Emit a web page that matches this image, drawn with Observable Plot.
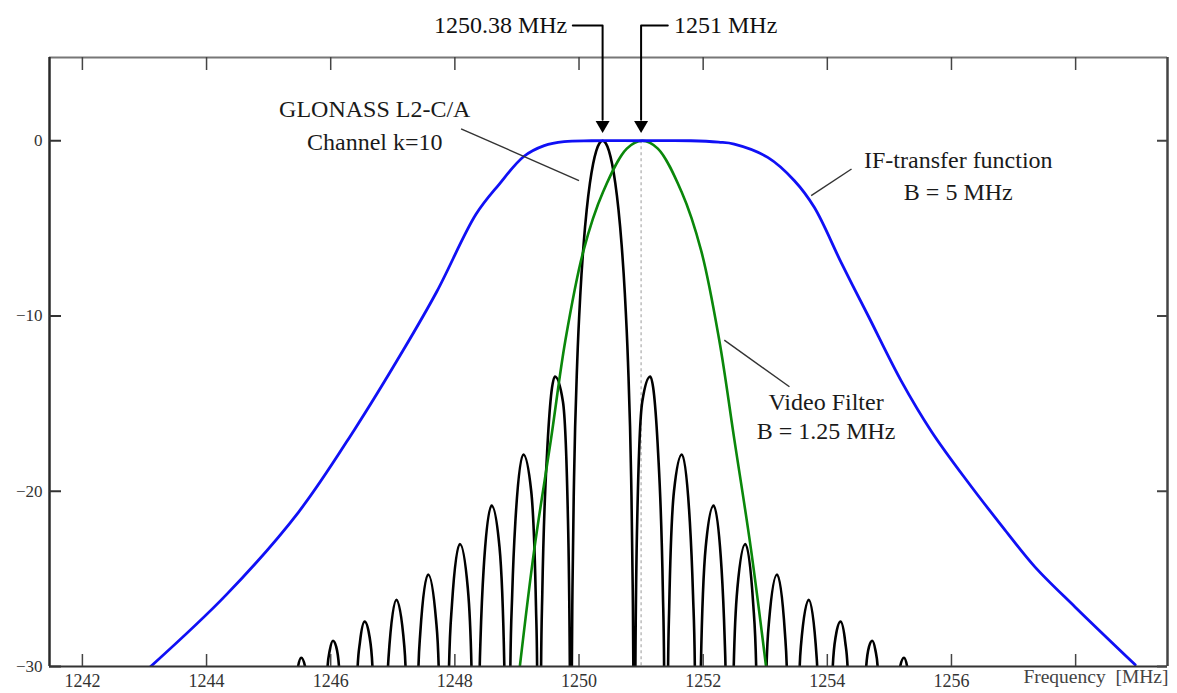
<!DOCTYPE html>
<html>
<head>
<meta charset="utf-8">
<script src="https://cdn.jsdelivr.net/npm/d3@7"></script>
<script src="https://cdn.jsdelivr.net/npm/@observablehq/plot@0.6"></script>
<style>
  html, body { margin: 0; padding: 0; background: #fff; }
  #chart svg { display: block; }
</style>
</head>
<body>
<div id="chart"></div>
<script>
// ---- axes ----
const xDomain = [1241.47, 1259.48];
const yDomain = [-30, 4.75];
const xTicks = [1242, 1244, 1246, 1248, 1250, 1252, 1254, 1256, 1258];
const xTickLabels = [1242, 1244, 1246, 1248, 1250, 1252, 1254, 1256];
const yTicks = [0, -10, -20, -30];
const xTitle = "Frequency  [MHz]";

// ---- IF-transfer function (blue) ----
const ifFreq = [1243.10, 1244.32, 1245.48, 1246.38, 1247.16, 1247.71, 1248.34, 1248.71, 1249.11, 1249.44, 1249.76, 1250.20, 1251.00, 1251.80, 1252.25, 1252.50, 1253.04, 1253.47, 1253.79, 1254.23, 1254.66, 1255.19, 1255.68, 1256.27, 1256.86, 1257.34, 1257.99, 1258.96];
const ifDb   = [-30.0, -25.9, -21.2, -16.5, -12.0, -8.6, -4.2, -2.5, -0.9, -0.28, -0.05, 0, 0, 0, -0.08, -0.19, -0.95, -2.28, -3.8, -7.0, -10.0, -13.7, -16.6, -19.5, -22.2, -24.3, -26.6, -29.9];

// ---- Video filter (green) ----
const vfFreq = [1249.04, 1249.28, 1249.55, 1249.78, 1250.07, 1250.39, 1250.77, 1251.02, 1251.27, 1251.65, 1251.97, 1252.26, 1252.50, 1252.77, 1253.02];
const vfDb   = [-30.2, -23.3, -17.0, -11.4, -6.3, -2.9, -0.45, 0, -0.45, -2.9, -6.3, -11.4, -17.0, -23.3, -30.2];

// ---- GLONASS L2-C/A spectrum (black), one side of the carrier, mirrored ----
const carrier = 1250.38;
const sincOff = [0, 0.0511, 0.1022, 0.1533, 0.2044, 0.2555, 0.3066, 0.3577, 0.4088, 0.4599, 0.4855, 0.4952, 0.511,
  0.5279, 0.5621, 0.6388, 0.7665, 0.8943, 0.9709, 0.9908, 1.022,
  1.0552, 1.0731, 1.1498, 1.2775, 1.4053, 1.4564, 1.486, 1.533,
  1.5831, 1.6608, 1.7885, 1.9163, 1.9674, 1.9796, 2.044,
  2.1125, 2.1718, 2.2995, 2.4273, 2.4738, 2.555,
  2.6408, 2.6828, 2.8105, 2.9383, 2.9664, 3.066,
  3.1748, 3.1938, 3.3215, 3.4493, 3.4569, 3.577,
  3.7078, 3.7559, 3.8325, 3.9092, 3.9459, 4.088,
  4.2464, 4.2924, 4.3435, 4.3946, 4.4304, 4.599,
  4.7932, 4.8545, 4.9056, 5.11];
const sincDb = [0, -0.14, -0.58, -1.33, -2.42, -3.92, -5.94, -8.69, -12.62, -19.23, -25.6, -30, -60,
  -30, -20.97, -14.89, -13.46, -17.81, -25.72, -30, -60,
  -30, -26.59, -20.0, -17.9, -21.74, -25.9, -30, -60,
  -30, -23.19, -20.82, -24.43, -28.51, -30, -60,
  -30, -25.52, -23.01, -26.49, -30, -60,
  -30, -27.36, -24.75, -28.15, -30, -60,
  -30, -28.87, -26.2, -29.54, -30, -60,
  -30, -28.27, -27.44, -28.62, -30, -60,
  -30, -28.86, -28.53, -29.07, -30, -60,
  -30, -29.5, -30, -60];

// ---- annotations ----
const arrowFreq = [1250.38, 1251.0];
const arrowTail = [1249.90, 1251.43];
const arrowTopDb = 6.57;
const arrowHeadDb = 0.9;
const arrowText = ["1250.38 MHz", "1251 MHz"];
const arrowTextFreq = [1249.81, 1251.53];

const labelText = ["GLONASS L2-C/A", "Channel k=10", "IF-transfer function", "B = 5 MHz", "Video Filter", "B = 1.25 MHz"];
const labelFreq = [1246.71, 1246.71, 1256.11, 1256.11, 1253.98, 1253.98];
const labelDb   = [1.78, -0.1, -1.13, -2.96, -14.93, -16.59];

const leaderX1 = [1248.10, 1254.39, 1252.34];
const leaderY1 = [0.68, -1.61, -11.38];
const leaderX2 = [1250.00, 1253.74, 1253.39];
const leaderY2 = [-2.28, -3.13, -14.04];

// ---- build tables ----
const ifData = ifFreq.map((f, i) => ({f, db: ifDb[i]}));
const vfData = vfFreq.map((f, i) => ({f, db: vfDb[i]}));
const sincData = [];
for (let i = sincOff.length - 1; i > 0; i--) sincData.push({f: carrier - sincOff[i], db: sincDb[i]});
for (let i = 0; i < sincOff.length; i++) sincData.push({f: carrier + sincOff[i], db: sincDb[i]});
const arrowPaths = [];
arrowFreq.forEach((f, i) => {
  arrowPaths.push({k: i, f: arrowTail[i], db: arrowTopDb});
  arrowPaths.push({k: i, f, db: arrowTopDb});
  arrowPaths.push({k: i, f, db: arrowHeadDb + 0.3});
});
const leaders = leaderX1.map((x, i) => ({x1: x, y1: leaderY1[i], x2: leaderX2[i], y2: leaderY2[i]}));

const serif = "'Liberation Serif', 'Times New Roman', serif";

const chart = Plot.plot({
  width: 1177,
  height: 693,
  marginLeft: 49,
  marginRight: 10,
  marginTop: 57,
  marginBottom: 27,
  x: {domain: xDomain},
  y: {domain: yDomain},
  style: {fontFamily: serif, fontSize: "18px", background: "#fff", overflow: "visible"},
  marks: [
    // dashed marker at 1251 MHz
    Plot.ruleX([1251.0], {y1: 0, y2: -30, stroke: "#999", strokeWidth: 1, strokeDasharray: "3,3"}),
    // curves
    Plot.line(sincData, {x: "f", y: "db", stroke: "#000", strokeWidth: 2.6, curve: "monotone-x", clip: true}),
    Plot.line(vfData, {x: "f", y: "db", stroke: "#0a870a", strokeWidth: 2.6, curve: "catmull-rom", clip: true}),
    Plot.line(ifData, {x: "f", y: "db", stroke: "#1010f5", strokeWidth: 2.8, curve: "catmull-rom", clip: true}),
    // frame
    Plot.ruleY([yDomain[1]], {stroke: "#777", strokeWidth: 2}),
    Plot.ruleX([xDomain[1]], {stroke: "#444", strokeWidth: 2.5}),
    Plot.ruleX([xDomain[0]], {stroke: "#2a2a2a", strokeWidth: 2.5}),
    Plot.ruleY([yDomain[0]], {stroke: "#333", strokeWidth: 2}),
    // inward ticks
    Plot.tickX(xTicks, {x: d => d, insetTop: 597, stroke: "#444", strokeWidth: 1.5}),
    Plot.tickX(xTicks, {x: d => d, insetBottom: 596, stroke: "#444", strokeWidth: 1.5}),
    Plot.tickY(yTicks, {y: d => d, insetRight: 1106, stroke: "#333", strokeWidth: 2}),
    Plot.tickY(yTicks, {y: d => d, insetLeft: 1108, stroke: "#444", strokeWidth: 2}),
    // tick labels
    Plot.axisX({ticks: xTickLabels, tickSize: 0, tickPadding: 8, tickFormat: d => String(d), label: null, fontSize: 18, fill: "#333"}),
    Plot.axisY({ticks: yTicks, tickSize: 0, tickPadding: 7, label: null, fontSize: 17, fill: "#333"}),
    Plot.text([xTitle], {text: d => d, frameAnchor: "bottom-right", textAnchor: "end", dy: 16, dx: 1, fontSize: 19.5, fill: "#444"}),
    // arrows
    Plot.line(arrowPaths, {x: "f", y: "db", z: "k", stroke: "#000", strokeWidth: 2}),
    Plot.dot(arrowFreq, {x: d => d, y: arrowHeadDb, symbol: "triangle", rotate: 180, r: 5.2, fill: "#000", stroke: "none"}),
    Plot.text([arrowText[0]], {text: d => d, x: arrowTextFreq[0], y: arrowTopDb, textAnchor: "end", fontSize: 24, fill: "#111"}),
    Plot.text([arrowText[1]], {text: d => d, x: arrowTextFreq[1], y: arrowTopDb, textAnchor: "start", fontSize: 24, fill: "#111"}),
    // labels and leader lines
    Plot.link(leaders, {x1: "x1", y1: "y1", x2: "x2", y2: "y2", stroke: "#333", strokeWidth: 1.4}),
    Plot.text(labelText, {text: d => d, x: (d, i) => labelFreq[i], y: (d, i) => labelDb[i], fontSize: 24, fill: "#1a1a1a"})
  ]
});
document.getElementById("chart").appendChild(chart);
</script>
</body>
</html>
